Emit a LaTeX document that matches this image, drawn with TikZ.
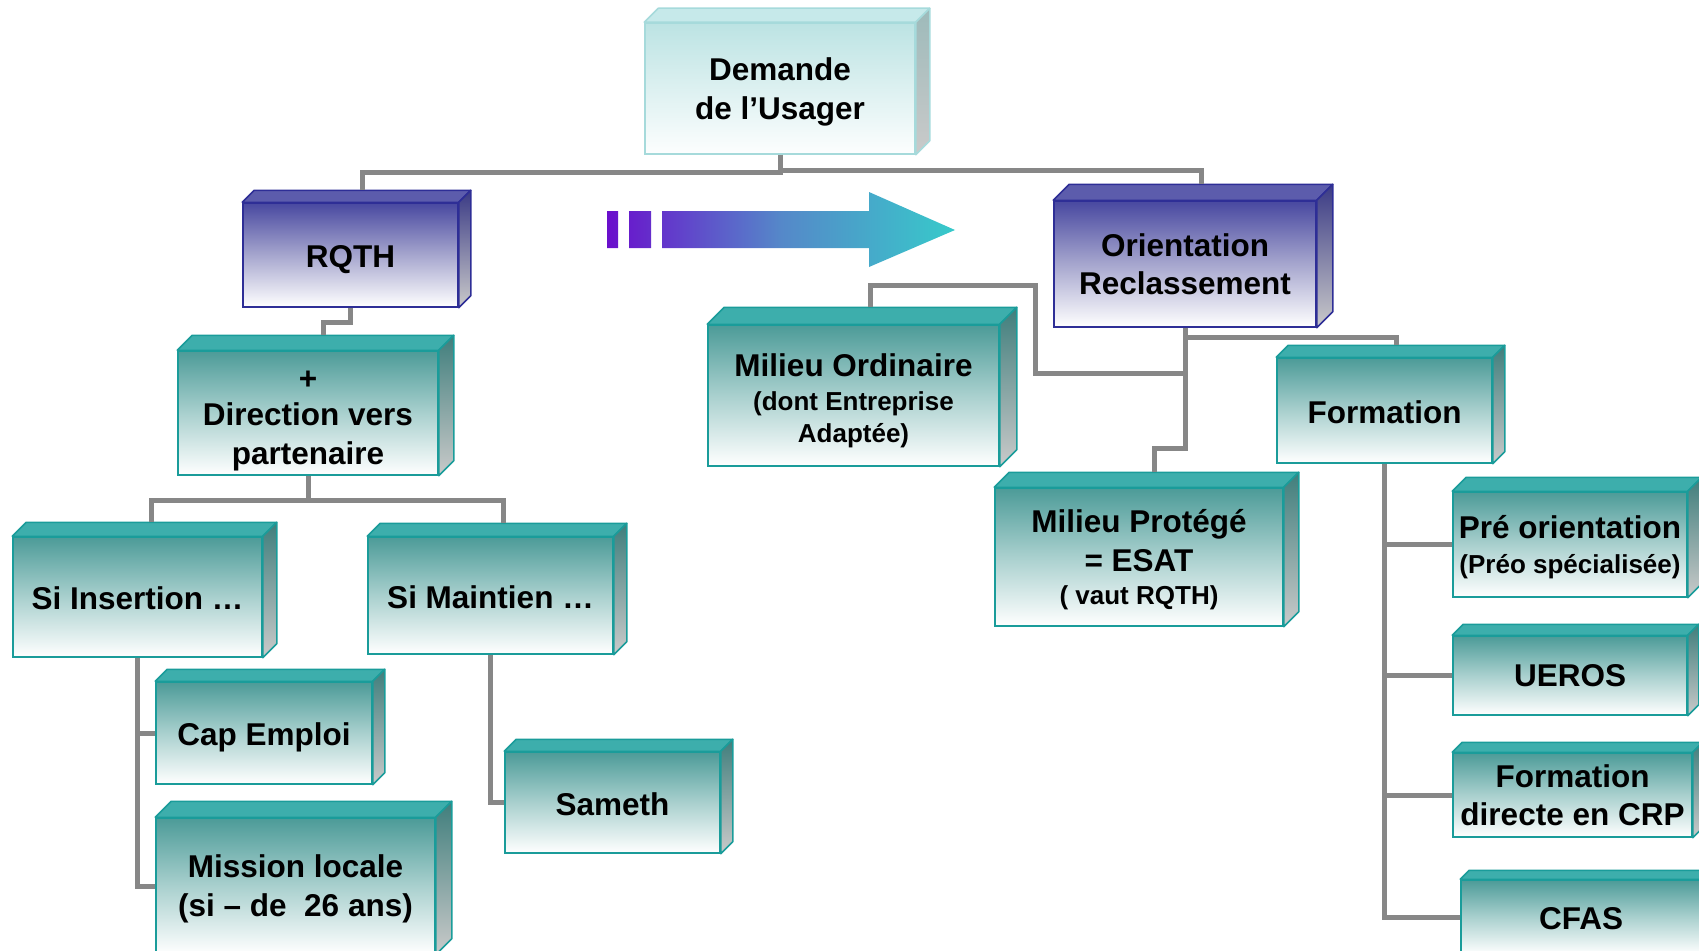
\documentclass[tikz,border=0pt]{standalone}
\usepackage{fontspec}
\setmainfont{Liberation Sans}
\usepackage{tikz}
\usetikzlibrary{positioning}
\tikzset{font=\bfseries\fontsize{31.5}{38.5}\selectfont}

\definecolor{paletop}{HTML}{C6E9EA}
\definecolor{paleedge}{HTML}{A6DADB}
\definecolor{paleside}{HTML}{9DBABA}
\definecolor{palefront}{HTML}{BCE3E3}
\definecolor{bluetop}{HTML}{5C5CAC}
\definecolor{blueedge}{HTML}{2E2E96}
\definecolor{blueside}{HTML}{3A3A85}
\definecolor{bluefront}{HTML}{4848A0}
\definecolor{bluemid}{HTML}{A6A6CE}
\definecolor{tealtop}{HTML}{3DAEAC}
\definecolor{tealedge}{HTML}{1A9C9A}
\definecolor{tealside}{HTML}{3F7E7C}
\definecolor{tealfront}{HTML}{4C9B98}
\definecolor{tealmid}{HTML}{A9D0CE}
\definecolor{sidegray}{HTML}{CACACA}
\definecolor{linkgray}{HTML}{878787}
\definecolor{arrowleft}{HTML}{6A0FCC}
\definecolor{arrowmid}{HTML}{5588C9}
\definecolor{arrowright}{HTML}{37CACA}

\newcommand{\smalltxt}{\fontsize{26}{32}\selectfont}

\begin{document}
\begin{tikzpicture}[x=1pt, y=-1pt,
    box/.style={line width=1.5pt, inner sep=1pt, align=center},
    palebox/.style={box, draw=paleedge, top color=palefront, bottom color=white!96!paletop},
    bluebox/.style={box, draw=blueedge, top color=bluefront, bottom color=white, middle color=bluemid},
    tealbox/.style={box, draw=tealedge, top color=tealfront, bottom color=white, middle color=tealmid},
    link/.style={draw=linkgray, line width=5pt}]
    \useasboundingbox (0,0) rectangle (1699,950);

    \node[palebox, minimum width=270pt, minimum height=131pt, text depth=0pt] (dem) at (780,88.5) {Demande\\de l’Usager};
    \node[bluebox, minimum width=215pt, minimum height=104pt, text height=31pt] (rqth) at (350.5,255) {RQTH};
    \node[bluebox, minimum width=262pt, minimum height=126pt, text depth=0pt] (ori) at (1185,264) {Orientation\\Reclassement};
    \node[tealbox, minimum width=260pt, minimum height=124pt, text height=102pt, text depth=0pt] (dir) at (308,413) {+\\[-2pt]Direction vers\\partenaire};
    \node[tealbox, minimum width=291pt, minimum height=141pt, text height=93.4pt, text depth=0pt] (mo) at (853.5,395.5) {Milieu Ordinaire\\[-4pt]\smalltxt (dont Entreprise\\[-7pt]\smalltxt Adaptée)};
    \node[tealbox, minimum width=215pt, minimum height=105pt, text height=27pt] (form) at (1384.5,410.5) {Formation};
    \node[tealbox, minimum width=288pt, minimum height=138pt, text depth=0pt] (mp) at (1139,557) {Milieu Protégé\\= ESAT\\[-5pt]\smalltxt ( vaut RQTH)};
    \node[tealbox, minimum width=249pt, minimum height=120pt, text height=25pt] (ins) at (137.5,597) {Si Insertion …};
    \node[tealbox, minimum width=245pt, minimum height=117pt, text height=27pt] (mai) at (490.5,595.5) {Si Maintien …};
    \node[tealbox, minimum width=216pt, minimum height=102pt, text height=31.5pt] (cap) at (264,733) {Cap Emploi};
    \node[tealbox, minimum width=279pt, minimum height=136pt, text depth=1.2pt] (mis) at (295.5,886) {Mission locale\\(si – de\ \ 26 ans)};
    \node[tealbox, minimum width=215pt, minimum height=101pt, text height=27pt] (sam) at (612.5,802.5) {Sameth};
    \node[tealbox, minimum width=234pt, minimum height=105pt, text depth=0pt] (pre) at (1570,544.5) {Pré orientation\\[-4pt]\smalltxt (Préo spécialisée)};
    \node[tealbox, minimum width=234pt, minimum height=79pt] (ueros) at (1570,675.5) {UEROS};
    \node[tealbox, minimum width=239pt, minimum height=84pt] (fcrp) at (1572.5,795) {Formation\\directe en CRP};
    \node[tealbox, minimum width=240pt, minimum height=74pt, text height=25pt] (cfas) at (1581,917) {CFAS};

    \foreach \n/\col/\dep in {dem/pale/14, rqth/blue/12, ori/blue/16, dir/teal/15, mo/teal/17, form/teal/12, mp/teal/15, ins/teal/14, mai/teal/13, cap/teal/12, mis/teal/16, sam/teal/12, pre/teal/14, ueros/teal/11, fcrp/teal/10, cfas/teal/9} {
        \filldraw[fill=\col top, draw=\col edge, line width=1.5pt, line join=round] (\n.north west) -- ++(\dep,-\dep) -- ([shift={(\dep,-\dep)}]\n.north east) -- (\n.north east) -- cycle;
        \shadedraw[top color=\col side, bottom color=sidegray, draw=\col edge, line width=1.5pt, line join=round] (\n.north east) -- ([shift={(\dep,-\dep)}]\n.north east) -- ([shift={(\dep,-\dep)}]\n.south east) -- (\n.south east) -- cycle;
        \coordinate (\n-top) at ([shift={(\dep,-\dep)}]\n.north);
    }

    \shade[left color=arrowleft, right color=arrowright, middle color=arrowmid] (607,211) rectangle (618,248) (629,211) rectangle (651,248) (662,211) -- (869,211) -- (869,192) -- (955,230) -- (869,267) -- (869,248) -- (662,248) -- cycle;

    \draw[link] (dem.south) -- ++(0,18) -| (rqth-top);
    \draw[link] (dem.south) -- ++(0,16) -| (ori-top);
    \draw[link] (rqth.south) -- ++(0,15) -| (dir-top);
    \draw[link] (dir.south) -- ++(0,25) -| (ins-top);
    \draw[link] (dir.south) -- ++(0,25) -| (mai-top);
    \draw[link] (ins.south) |- (cap.west);
    \draw[link] (ins.south) |- (mis.west);
    \draw[link] (mai.south) |- (sam.west);
    \draw[link] (ori.south) -- ++(0,46) -| ++(-150,-88) -| (mo-top);
    \draw[link] (ori.south) -- ++(0,121) -| (mp-top);
    \draw[link] (ori.south) -- ++(0,10) -| (form-top);
    \foreach \n in {pre, ueros, fcrp, cfas}
        \draw[link] (form.south) |- (\n.west);
\end{tikzpicture}
\end{document}
